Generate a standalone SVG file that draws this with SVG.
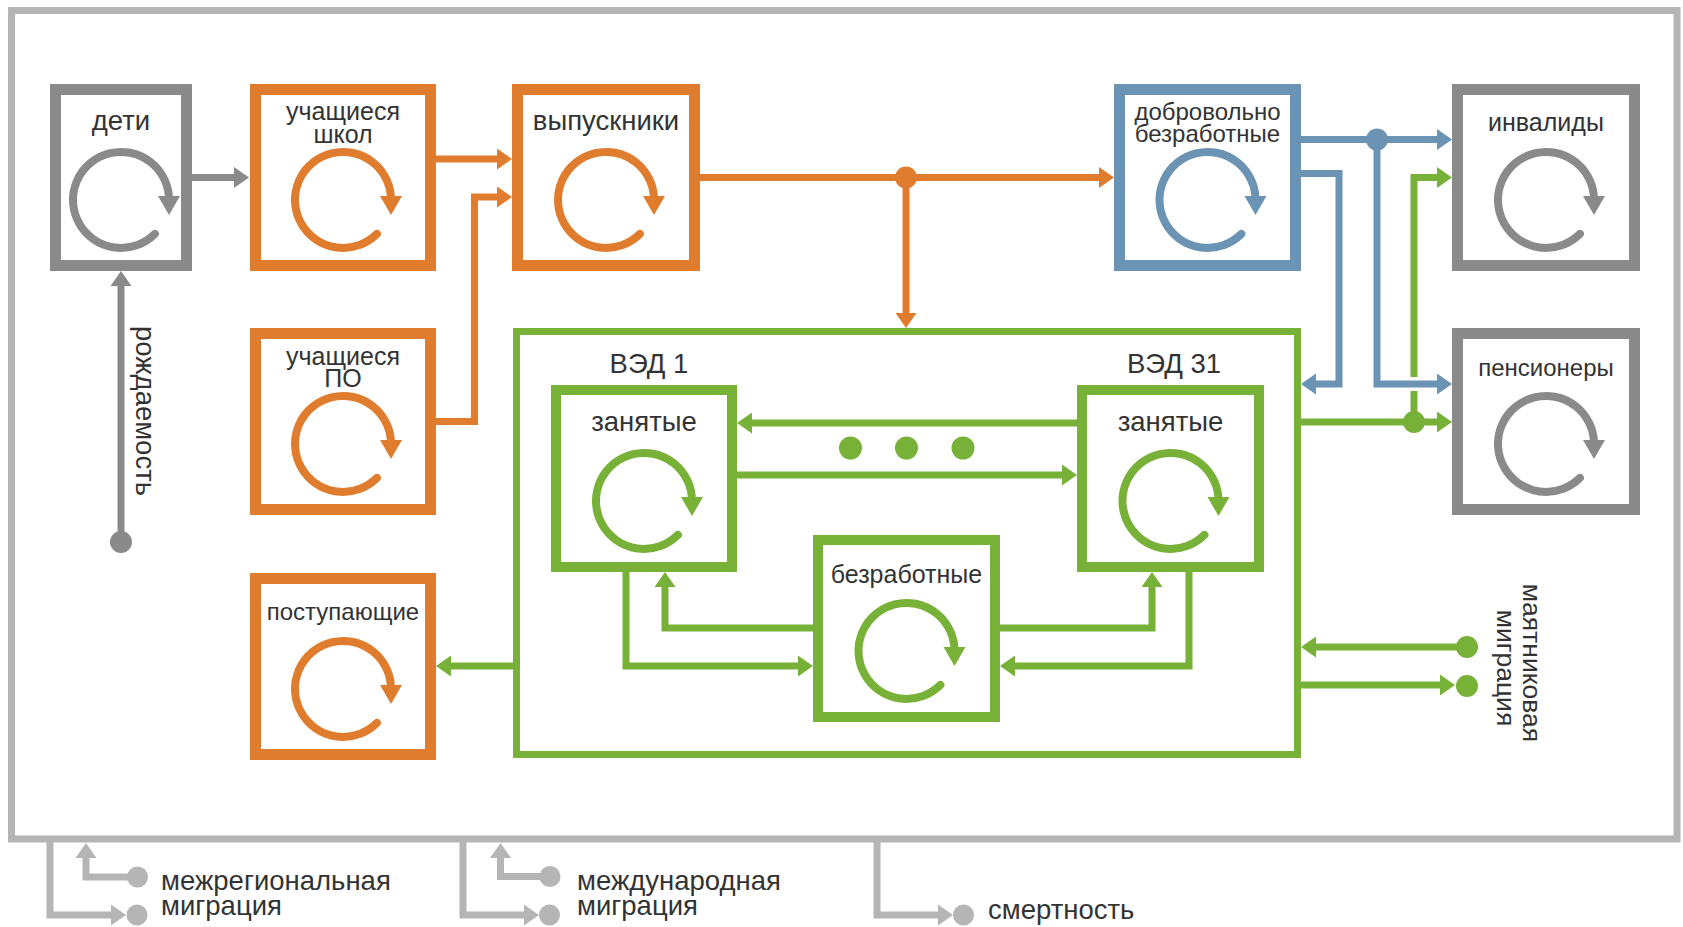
<svg xmlns="http://www.w3.org/2000/svg" width="1683" height="927" viewBox="0 0 1683 927">
<style>
.bx{fill:#fff;stroke-width:11}
.bi{fill:#fff;stroke-width:10}
.gr{stroke:#8a8a8a;color:#8a8a8a}
.or{stroke:#e07c2e;color:#e07c2e}
.bl{stroke:#6b93b4;color:#6b93b4}
.gn{stroke:#78b138;color:#78b138}
.lbl{font-family:"Liberation Sans",Arial,sans-serif;font-size:25px;fill:#333;stroke:none;text-anchor:middle}
.big{font-size:27.5px}
.sm{font-size:24px}
.st{text-anchor:start}
.c{fill:none;stroke-width:7}
.cg{stroke:#8a8a8a}.co{stroke:#e07c2e}.cb{stroke:#6b93b4}.cn{stroke:#78b138}.cl{stroke:#b5b5b5}
</style>
<defs>
<g id="cyc">
<path d="M33.9,33.9A48,48 0 1 1 47.99,1" fill="none" stroke="currentColor" stroke-width="8" stroke-linecap="round"/>
<path d="M37,-4H59L48,15z" fill="currentColor" stroke="none"/>
</g>
<marker id="ag" viewBox="0 0 15 21" refX="5" refY="10.5" markerWidth="15" markerHeight="21" markerUnits="userSpaceOnUse" orient="auto"><path d="M0,0L15,10.5L0,21z" fill="#8a8a8a"/></marker>
<marker id="ao" viewBox="0 0 15 21" refX="5" refY="10.5" markerWidth="15" markerHeight="21" markerUnits="userSpaceOnUse" orient="auto"><path d="M0,0L15,10.5L0,21z" fill="#e07c2e"/></marker>
<marker id="ab" viewBox="0 0 15 21" refX="5" refY="10.5" markerWidth="15" markerHeight="21" markerUnits="userSpaceOnUse" orient="auto"><path d="M0,0L15,10.5L0,21z" fill="#6b93b4"/></marker>
<marker id="an" viewBox="0 0 15 21" refX="5" refY="10.5" markerWidth="15" markerHeight="21" markerUnits="userSpaceOnUse" orient="auto"><path d="M0,0L15,10.5L0,21z" fill="#78b138"/></marker>
<marker id="al" viewBox="0 0 15 21" refX="5" refY="10.5" markerWidth="15" markerHeight="21" markerUnits="userSpaceOnUse" orient="auto"><path d="M0,0L15,10.5L0,21z" fill="#b5b5b5"/></marker>
</defs>
<rect width="1683" height="927" fill="#fff"/>
<rect id="frame" x="11.5" y="10.5" width="1665.5" height="828.5" fill="none" stroke="#b5b5b5" stroke-width="7"/>

<g id="container">
<rect x="516.5" y="331.5" width="781" height="423" fill="none" stroke="#78b138" stroke-width="7"/>
<text class="lbl big" x="649" y="373">ВЭД 1</text>
<text class="lbl big" x="1174" y="373">ВЭД 31</text>
</g>

<g id="connectors">
<path class="c cg" d="M192,177.5H239" marker-end="url(#ag)"/>
<path class="c cg" d="M121,542V281" marker-end="url(#ag)"/>
<circle cx="121" cy="542" r="11" fill="#8a8a8a"/>
<path class="c co" d="M436,159H502" marker-end="url(#ao)"/>
<path class="c co" d="M436,421.5H474.5V197H502" marker-end="url(#ao)"/>
<path class="c co" d="M700,177.5H1104" marker-end="url(#ao)"/>
<path class="c co" d="M906,177.5V318" marker-end="url(#ao)"/>
<circle cx="906" cy="177.5" r="11" fill="#e07c2e"/>
<path class="c cb" d="M1301,139.5H1442" marker-end="url(#ab)"/>
<path class="c cb" d="M1377,139.5V384H1442" marker-end="url(#ab)"/>
<path class="c cb" d="M1301,173.5H1339V384H1311" marker-end="url(#ab)"/>
<circle cx="1377" cy="139.5" r="11" fill="#6b93b4"/>
<path class="c cn" d="M1301,422H1442" marker-end="url(#an)"/>
<path class="c cn" d="M1414,422V391"/>
<path class="c cn" d="M1414,377V177.5H1442" marker-end="url(#an)"/>
<circle cx="1414" cy="422" r="11" fill="#78b138"/>
<path class="c cn" d="M1077,423H747" marker-end="url(#an)"/>
<path class="c cn" d="M737,475H1067" marker-end="url(#an)"/>
<circle cx="850.5" cy="448" r="11.5" fill="#78b138"/>
<circle cx="906.5" cy="448" r="11.5" fill="#78b138"/>
<circle cx="963" cy="448" r="11.5" fill="#78b138"/>
<path class="c cn" d="M626,572V666H803" marker-end="url(#an)"/>
<path class="c cn" d="M813,628H665V582" marker-end="url(#an)"/>
<path class="c cn" d="M1000,628H1152V582" marker-end="url(#an)"/>
<path class="c cn" d="M1189,572V666H1010" marker-end="url(#an)"/>
<path class="c cn" d="M513,666H446" marker-end="url(#an)"/>
<path class="c cn" d="M1467,647H1311" marker-end="url(#an)"/>
<path class="c cn" d="M1301,685H1445" marker-end="url(#an)"/>
<circle cx="1467" cy="647" r="11" fill="#78b138"/>
<circle cx="1467" cy="686" r="11" fill="#78b138"/>
<path class="c cl" d="M50,839V915H116" marker-end="url(#al)"/>
<circle cx="137" cy="915" r="10.5" fill="#b5b5b5"/>
<path class="c cl" d="M137,877H86V853" marker-end="url(#al)"/>
<circle cx="137.5" cy="877" r="10.5" fill="#b5b5b5"/>
<path class="c cl" d="M463,839V915H529" marker-end="url(#al)"/>
<circle cx="549.5" cy="915" r="10.5" fill="#b5b5b5"/>
<path class="c cl" d="M550,876.5H500.5V853" marker-end="url(#al)"/>
<circle cx="550" cy="876.5" r="10.5" fill="#b5b5b5"/>
<path class="c cl" d="M877,839V915H943" marker-end="url(#al)"/>
<circle cx="963.5" cy="915" r="10.5" fill="#b5b5b5"/>
</g>

<g id="n-deti" class="gr"><rect class="bx" x="55.5" y="89.5" width="131" height="176"/><text class="lbl big" x="121" y="130">дети</text><use href="#cyc" x="121" y="200"/></g>
<g id="n-shkol" class="or"><rect class="bx" x="255.5" y="89.5" width="175" height="176"/><text class="lbl" x="343" y="120">учащиеся</text><text class="lbl" x="343" y="143">школ</text><use href="#cyc" x="343" y="200"/></g>
<g id="n-vypusk" class="or"><rect class="bx" x="517.5" y="89.5" width="177" height="176"/><text class="lbl big" x="606" y="130">выпускники</text><use href="#cyc" x="606" y="200"/></g>
<g id="n-dobr" class="bl"><rect class="bx" x="1119.5" y="89.5" width="176" height="176"/><text class="lbl sm" x="1207.5" y="120">добровольно</text><text class="lbl sm" x="1207.5" y="142">безработные</text><use href="#cyc" x="1207.5" y="200"/></g>
<g id="n-inval" class="gr"><rect class="bx" x="1457.5" y="89.5" width="177" height="176"/><text class="lbl" x="1546" y="131">инвалиды</text><use href="#cyc" x="1546" y="200"/></g>
<g id="n-pens" class="gr"><rect class="bx" x="1457.5" y="333.5" width="177" height="176"/><text class="lbl sm" x="1546" y="376">пенсионеры</text><use href="#cyc" x="1546" y="444"/></g>
<g id="n-po" class="or"><rect class="bx" x="255.5" y="333.5" width="175" height="176"/><text class="lbl" x="343" y="365">учащиеся</text><text class="lbl" x="343" y="387">ПО</text><use href="#cyc" x="343" y="444"/></g>
<g id="n-postup" class="or"><rect class="bx" x="255.5" y="578.5" width="175" height="176"/><text class="lbl sm" x="343" y="620">поступающие</text><use href="#cyc" x="343" y="689"/></g>
<g id="n-ved1" class="gn"><rect class="bi" x="556" y="390" width="176" height="177"/><text class="lbl big" x="644" y="431">занятые</text><use href="#cyc" x="644" y="501"/></g>
<g id="n-ved31" class="gn"><rect class="bi" x="1082" y="390" width="177" height="177"/><text class="lbl big" x="1170.5" y="431">занятые</text><use href="#cyc" x="1170.5" y="501"/></g>
<g id="n-bezrab" class="gn"><rect class="bi" x="818" y="540" width="177" height="177"/><text class="lbl" x="906.5" y="583">безработные</text><use href="#cyc" x="906.5" y="651"/></g>

<g id="labels">
<text class="lbl big" transform="translate(136,411) rotate(90)">рождаемость</text>
<text class="lbl" style="font-size:26.5px" transform="translate(1523,663) rotate(90)">маятниковая</text>
<text class="lbl" style="font-size:26.5px" transform="translate(1497,668) rotate(90)">миграция</text>
<text class="lbl big st" x="161" y="890">межрегиональная</text>
<text class="lbl big st" x="161" y="915">миграция</text>
<text class="lbl big st" x="577" y="890">международная</text>
<text class="lbl big st" x="577" y="915">миграция</text>
<text class="lbl big st" x="988" y="919">смертность</text>
</g>
</svg>
